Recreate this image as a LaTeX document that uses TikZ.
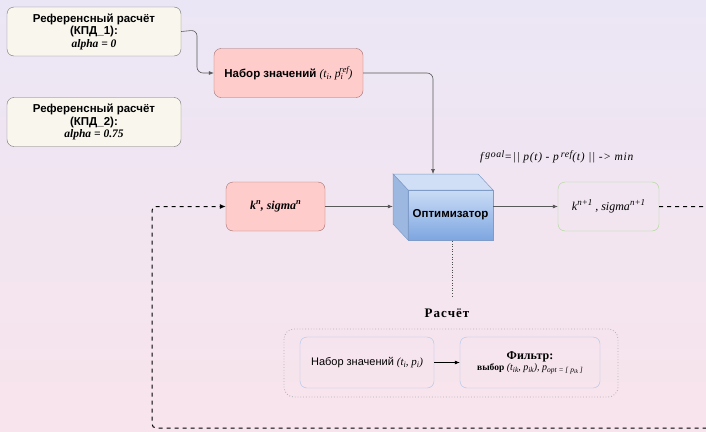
\documentclass[tikz,border=0pt]{standalone}
\usepackage{fontspec}
\setmainfont{Liberation Sans}
\newfontfamily\tnr{Liberation Serif}
\newfontfamily\tnrs[LetterSpace=8]{Liberation Serif}
\newfontfamily\tnrw[LetterSpace=6]{Liberation Serif}
\usetikzlibrary{arrows.meta}
\newcommand\myup[2][0.75]{\raisebox{0.42em}{\scalebox{#1}{#2}}}
\newcommand\mydn[2][0.75]{\raisebox{-0.2em}{\scalebox{#1}{#2}}}
\definecolor{bgtop}{HTML}{EBE6F5}
\definecolor{bgbot}{HTML}{F8E4EC}
\definecolor{cream}{HTML}{F9F7ED}
\definecolor{pinkf}{HTML}{FFCCCC}
\definecolor{pinkd}{HTML}{A07070}
\definecolor{greend}{HTML}{A8D890}
\definecolor{blued}{HTML}{A9C4EB}
\definecolor{cubetop}{HTML}{D0DFF5}
\definecolor{cubeleft}{HTML}{9DB8E0}
\definecolor{cubeft}{HTML}{CADCF6}
\definecolor{cubefb}{HTML}{7EA6E0}
\definecolor{cubed}{HTML}{7F9CC8}
\tikzset{
  refbox/.style={draw=black!55, fill=cream, rounded corners=7pt, minimum width=174pt, minimum height=49pt, align=center, inner sep=1pt, font=\fontsize{11.5}{12.5}\selectfont},
  pinkbox/.style={draw=pinkd, fill=pinkf, rounded corners=7pt, minimum height=49pt, align=center, inner sep=1pt},
  greenbox/.style={draw=greend, rounded corners=7pt, minimum width=101pt, minimum height=49pt, align=center, inner sep=1pt},
  innbox/.style={draw=blued, rounded corners=7pt, minimum height=51pt, align=center, inner sep=1pt},
  conn/.style={draw=black!65, line width=0.6pt, -{Latex[length=5pt,width=4pt]}, rounded corners=6pt},
  dconn/.style={draw=black, line width=1pt, dashed, dash pattern=on 4pt off 4pt, -{Latex[length=6pt,width=5pt]}, rounded corners=4pt},
}
\begin{document}
\begin{tikzpicture}[x=1pt,y=-1pt]
\useasboundingbox (0,0) rectangle (706,431);
\shade[top color=bgtop, bottom color=bgbot] (0,0) rectangle (706,431);
\clip (0,0) rectangle (706,431);

\node[refbox] (r1) at (94,31.5) {\textbf{Референсный расчёт}\\\textbf{(КПД\_1):}\\{\tnr\itshape\bfseries alpha = 0}};
\node[refbox] (r2) at (94,122) {\textbf{Референсный расчёт}\\\textbf{(КПД\_2):}\\{\tnr\itshape\bfseries alpha = 0.75}};

\node[pinkbox, minimum width=149pt, font=\fontsize{11.5}{12.5}\selectfont] (nab) at (288.5,73) {\textbf{Набор значений} {\tnr\itshape (t\mydn{i}, p\mydn{i}\hspace{-0.3em}\myup{ref})}};

\node[pinkbox, minimum width=99pt, font=\tnr\itshape\bfseries\fontsize{12}{13}\selectfont] (kn) at (275.5,206.5) {k\myup[0.7]{n}, sigma\myup[0.7]{n}};

% optimizer cube
\filldraw[fill=cubetop, draw=cubed, line width=0.5pt] (393,174) -- (478,174) -- (493,190) -- (408,190) -- cycle;
\filldraw[fill=cubeleft, draw=cubed, line width=0.5pt] (393,174) -- (408,190) -- (408,240) -- (393,224) -- cycle;
\node[draw=cubed, line width=0.5pt, top color=cubeft, bottom color=cubefb, minimum width=85pt, minimum height=50pt, inner sep=0pt, font=\fontsize{11.5}{12.5}\selectfont\bfseries] (optf) at (450.5,215) {Оптимизатор};
\node[minimum width=100pt, minimum height=66pt, inner sep=0pt] (opt) at (443,207) {};

\node[greenbox, font=\tnr\itshape\fontsize{12}{13}\selectfont] (kn1) at (608.5,206.5) {k\myup[0.75]{n+1} , sigma\myup[0.75]{n+1}};

\node[font=\tnrw\itshape\fontsize{11.5}{13}\selectfont, anchor=west, inner sep=0pt] (goal) at (480,157) {f\,\raisebox{0.3em}{\scalebox{0.85}{goal}}=|| p(t) - p\,\raisebox{0.3em}{\scalebox{0.85}{ref}}(t) || -> min};

% connectors
\draw[conn] (r1.east) -- (197,30) -- (197,73) -- (nab.west);
\draw[conn] (nab.east) -- (433,73) -- (433,174);
\draw[conn] (kn.east) -- (opt.west |- kn.east);
\draw[conn] (optf.east |- kn1.west) -- (kn1.west);
\draw[dconn] (kn1.east) -- (730,206.5) -- (730,428) -- (152,428) -- (152,206.5) -- (kn.west);
\draw[black!70, dotted, line width=0.6pt] (452,241) -- (452,297);

% Raschet
\node[font=\tnrs\bfseries\fontsize{13}{14}\selectfont] (rlab) at (447,313) {Расчёт};
\draw[black!30, dotted, line width=0.8pt, rounded corners=10pt] (284,329) rectangle (618,397);
\node[innbox, minimum width=134pt, font=\fontsize{11}{12}\selectfont] (in1) at (367,362.5) {Набор значений {\tnr\itshape (t\mydn{i}, p\mydn{i})}};
\node[innbox, minimum width=140pt, font=\tnr\fontsize{10}{12}\selectfont] (in2) at (530,362.5) {{\bfseries\fontsize{12}{13}\selectfont Фильтр:}\\[-1pt]{\fontsize{9.5}{10}\selectfont\bfseries выбор} {\fontsize{10}{10}\selectfont\itshape (t\mydn{ik}, p\mydn{ik}), p\mydn{opt = [ p\mydn{ik} ]}}};
\draw[black, line width=0.6pt, -{Latex[length=5pt,width=4pt]}] (in1.east) -- (in2.west);
\end{tikzpicture}
\end{document}
